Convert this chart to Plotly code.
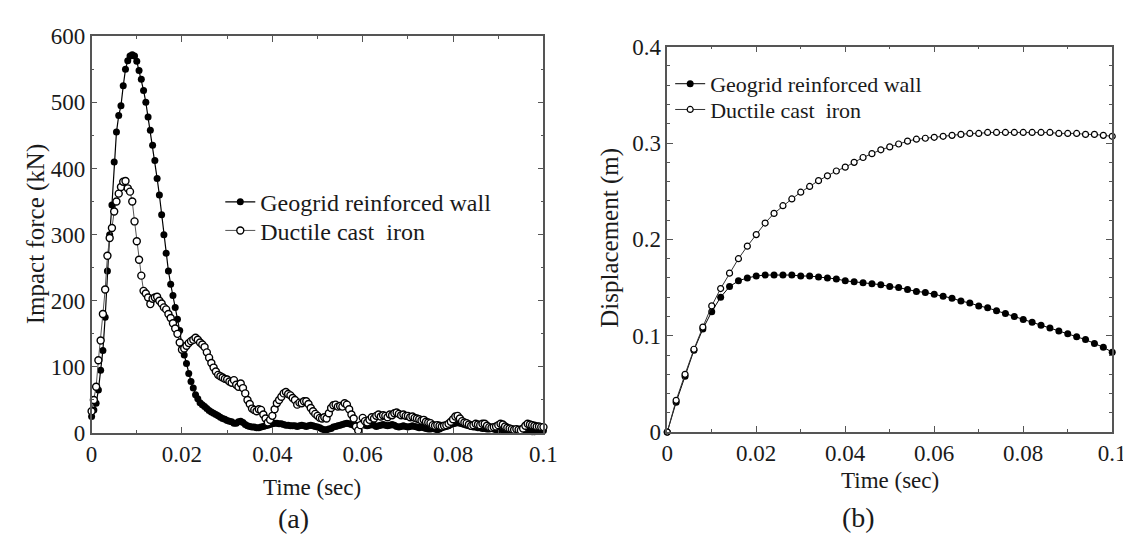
import plotly.graph_objects as go

# (a) impact force, sampled every 0.5 ms
t_force = [round(i * 0.0005, 4) for i in range(201)]
force_geogrid = [
    25, 35, 45, 65, 95, 125, 175, 245, 300, 345,
    410, 455, 480, 495, 525, 550, 563, 570, 572, 570,
    562, 548, 535, 518, 500, 478, 458, 435, 412, 385,
    360, 330, 300, 272, 245, 225, 208, 190, 172, 155,
    132, 118, 105, 90, 78, 68, 58, 52, 46, 43,
    40, 37, 34, 32, 30, 28, 26, 24, 22, 21,
    19, 18, 17, 15, 15, 17, 18, 16, 13, 11,
    10, 9, 9, 8, 8, 9, 10, 11, 12, 13,
    14, 15, 15, 14, 14, 13, 12, 12, 11, 11,
    11, 10, 11, 12, 11, 10, 11, 12, 11, 10,
    9, 8, 6, 5, 5, 6, 7, 9, 10, 11,
    12, 13, 14, 15, 14, 13, 12, 12, 11, 12,
    13, 12, 11, 12, 13, 12, 10, 11, 12, 13,
    12, 11, 12, 13, 12, 10, 9, 10, 11, 10,
    9, 10, 11, 10, 9, 8, 9, 8, 7, 6,
    6, 7, 6, 5, 6, 8, 9, 10, 11, 13,
    14, 15, 16, 15, 14, 13, 12, 11, 10, 9,
    9, 8, 8, 7, 7, 6, 6, 7, 6, 5,
    5, 6, 5, 4, 5, 6, 5, 4, 4, 5,
    6, 5, 4, 3, 3, 2, 2, 3, 4, 4,
    4,
]
force_ductile = [
    33, 50, 70, 110, 140, 180, 217, 268, 295, 310,
    335, 350, 362, 372, 380, 381, 370, 365, 350, 320,
    290, 262, 238, 215, 211, 205, 195, 203, 205, 206,
    200, 196, 190, 187, 180, 174, 166, 158, 150, 137,
    126, 128, 132, 136, 139, 141, 144, 141, 137, 134,
    130, 122, 114, 106, 99, 93, 88, 86, 84, 82,
    81, 78, 76, 80, 73, 70, 75, 68, 60, 50,
    44, 37, 35, 33, 36, 35, 28, 22, 16, 20,
    26, 36, 45, 50, 55, 60, 62, 59, 57, 53,
    50, 43, 46, 45, 48, 48, 44, 38, 33, 29,
    26, 23, 22, 24, 22, 30, 38, 42, 43, 40,
    41, 40, 45, 43, 36, 28, 22, 10, 4, 12,
    23, 18, 16, 20, 24, 22, 26, 28, 25, 27,
    26, 24, 28, 27, 30, 31, 29, 27, 28, 26,
    26, 24, 25, 23, 22, 21, 19, 20, 17, 16,
    15, 12, 11, 12, 11, 10, 11, 12, 14, 17,
    21, 25, 26, 22, 18, 16, 15, 13, 11, 12,
    14, 13, 12, 14, 14, 11, 9, 8, 9, 10,
    12, 14, 13, 10, 8, 7, 6, 5, 6, 5,
    4, 7, 11, 14, 13, 12, 11, 10, 10, 9,
    9,
]

# (b) displacement, sampled every 2 ms
t_disp = [round(i * 0.002, 3) for i in range(51)]
disp_geogrid = [
    0.000, 0.031, 0.058, 0.085, 0.107, 0.125, 0.140, 0.151, 0.157, 0.160,
    0.162, 0.163, 0.163, 0.163, 0.163, 0.162, 0.162, 0.161, 0.160, 0.159,
    0.157, 0.156, 0.155, 0.154, 0.153, 0.151, 0.150, 0.148, 0.146, 0.145,
    0.143, 0.141, 0.139, 0.136, 0.134, 0.131, 0.129, 0.126, 0.123, 0.120,
    0.117, 0.114, 0.111, 0.108, 0.105, 0.102, 0.099, 0.096, 0.092, 0.088,
    0.083,
]
disp_ductile = [
    0.000, 0.033, 0.060, 0.086, 0.109, 0.131, 0.149, 0.165, 0.180, 0.193,
    0.205, 0.217, 0.227, 0.235, 0.242, 0.249, 0.255, 0.261, 0.266, 0.271,
    0.275, 0.280, 0.285, 0.289, 0.293, 0.296, 0.299, 0.302, 0.304, 0.305,
    0.306, 0.307, 0.308, 0.309, 0.310, 0.310, 0.311, 0.311, 0.311, 0.311,
    0.311, 0.311, 0.311, 0.311, 0.310, 0.310, 0.310, 0.309, 0.309, 0.308,
    0.307,
]

names = ["Geogrid reinforced wall", "Ductile cast  iron"]
serif = "Liberation Serif, Times New Roman, Tinos, DejaVu Serif, serif"
ink = "#1a1a1a"

fig = go.Figure()

# panel (a): one legend per entry so rows can sit close together
fig.add_trace(go.Scatter(x=t_force, y=force_geogrid, name=names[0], mode="lines+markers",
                         line=dict(color="black", width=1.2),
                         marker=dict(symbol="circle", size=7, color="black"),
                         cliponaxis=False, xaxis="x", yaxis="y", legend="legend"))
fig.add_trace(go.Scatter(x=t_force, y=force_ductile, name=names[1], mode="lines+markers",
                         line=dict(color="#555", width=1),
                         marker=dict(symbol="circle", size=7, color="white",
                                     line=dict(color="black", width=1.4)),
                         cliponaxis=False, xaxis="x", yaxis="y", legend="legend3"))

# panel (b)
fig.add_trace(go.Scatter(x=t_disp, y=disp_geogrid, name=names[0], mode="lines+markers",
                         line=dict(color="black", width=1),
                         marker=dict(symbol="circle", size=7, color="black"),
                         cliponaxis=False, xaxis="x2", yaxis="y2", legend="legend2"))
fig.add_trace(go.Scatter(x=t_disp, y=disp_ductile, name=names[1], mode="lines+markers",
                         line=dict(color="#333", width=1),
                         marker=dict(symbol="circle", size=6, color="white",
                                     line=dict(color="black", width=1.2)),
                         cliponaxis=False, xaxis="x2", yaxis="y2", legend="legend4"))

axis_style = dict(showline=True, linecolor="#555", linewidth=1.5, mirror="ticks",
                  ticks="inside", ticklen=6, tickwidth=1.2, tickcolor="#555",
                  showgrid=False, zeroline=False,
                  tickfont=dict(family=serif, size=23, color=ink))

W, H = 1131, 543


def px_x(p):
    return p / W


def px_y(p):
    return 1 - p / H


def legend_at(x, y, size):
    return dict(x=px_x(x), y=px_y(y), xanchor="left", yanchor="middle",
                bgcolor="rgba(0,0,0,0)", borderwidth=0,
                font=dict(family=serif, size=size, color=ink))


fig.update_layout(
    width=W, height=H,
    margin=dict(l=0, r=0, t=0, b=0),
    paper_bgcolor="white", plot_bgcolor="white",
    font=dict(family=serif, size=22, color=ink),
    xaxis=dict(domain=[px_x(79), px_x(539)], range=[0, 0.1], dtick=0.02, anchor="y",
               minor=dict(dtick=0.01, ticks="inside", ticklen=3, tickcolor="#555"), **axis_style),
    yaxis=dict(domain=[px_y(433), px_y(17)], range=[0, 600], dtick=100, anchor="x",
               minor=dict(dtick=50, ticks="inside", ticklen=3, tickcolor="#555"), **axis_style),
    xaxis2=dict(domain=[px_x(665), px_x(1118)], range=[0, 0.1], dtick=0.02, anchor="y2",
                minor=dict(dtick=0.01, ticks="inside", ticklen=3, tickcolor="#555"), **axis_style),
    yaxis2=dict(domain=[px_y(432), px_y(28)], range=[0, 0.4], dtick=0.1, anchor="x2",
                minor=dict(dtick=0.02, ticks="inside", ticklen=3, tickcolor="#555"), **axis_style),
    legend=legend_at(210, 191, 24),
    legend3=legend_at(210, 221, 24),
    legend2=legend_at(668, 67, 22),
    legend4=legend_at(668, 94, 22),
    showlegend=True,
)

labels = [
    dict(text="Time (sec)", x=303, y=490, angle=0, size=23),
    dict(text="(a)", x=285, y=523, angle=0, size=28),
    dict(text="Impact force (kN)", x=22, y=225, angle=-90, size=25),
    dict(text="Time (sec)", x=892, y=483, angle=0, size=23),
    dict(text="(b)", x=860, y=522, angle=0, size=28),
    dict(text="Displacement (m)", x=606, y=228, angle=-90, size=25),
]
for a in labels:
    fig.add_annotation(text=a["text"], x=px_x(a["x"]), y=px_y(a["y"]), xref="paper", yref="paper",
                       xanchor="center", yanchor="middle", showarrow=False, textangle=a["angle"],
                       font=dict(family=serif, size=a["size"], color=ink))

fig.write_html("out.html")
